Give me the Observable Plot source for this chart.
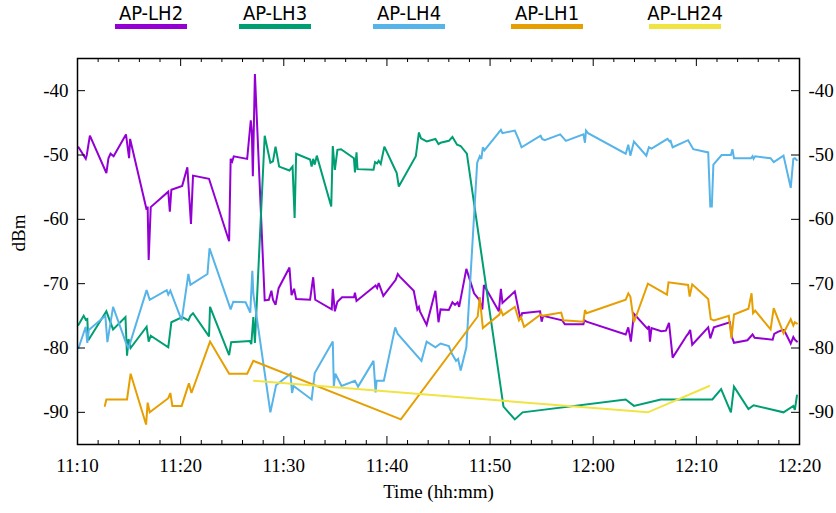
<!DOCTYPE html>
<html>
<head>
<meta charset="utf-8">
<script src="https://cdn.jsdelivr.net/npm/d3@7"></script>
<script src="https://cdn.jsdelivr.net/npm/@observablehq/plot@0.6"></script>
<style>
  html, body { margin: 0; padding: 0; background: #fff; }
  #wrap { position: relative; width: 836px; height: 513px; }
  #wrap svg text { font-family: "Liberation Serif", "Times New Roman", serif; }
  #legend { position: absolute; left: 0; top: 0; width: 836px; height: 40px; }
  .item { position: absolute; top: 0; width: 72px; }
  .item .lab { display: block; text-align: center; font-family: "DejaVu Sans Condensed", "DejaVu Sans", sans-serif; font-stretch: condensed; font-size: 20px; line-height: 20px; margin-top: 3px; white-space: nowrap; margin-left: -20px; margin-right: -20px; color: #000; }
  .item .sw { position: absolute; top: 24px; left: 0; width: 72px; height: 5px; }
</style>
</head>
<body>
<div id="wrap"><div id="legend"></div></div>
<script>
// ---- data (minutes after 11:10, dBm) ----
const seriesNames = ["AP-LH2", "AP-LH3", "AP-LH4", "AP-LH1", "AP-LH24"];
const seriesColors = ["#9400D3", "#009E73", "#56B4E9", "#E69F00", "#F0E442"];

const lh2 = [[0.1,-48.8],[0.8,-50.6],[0.9,-50],[1.2,-47],[2.8,-52.8],[3.0,-50.5],[3.2,-49.8],[3.5,-50.2],[4.7,-46.8],[5.0,-50.5],[5.1,-47.5],[6.7,-58.5],[6.8,-58],[6.9,-66.3],[7.1,-58.1],[8.8,-55.7],[8.95,-58.8],[9.1,-55.4],[10.15,-54.8],[10.65,-51.9],[11.0,-60.7],[11.2,-53.2],[12.75,-53.7],[14.7,-63.4],[14.85,-50.6],[15.0,-51],[15.15,-50.2],[16.45,-50.6],[16.8,-44.6],[16.9,-46.3],[17.0,-53.3],[17.2,-37.4],[18.15,-72.6],[18.55,-72.5],[18.8,-71.1],[18.95,-72.5],[19.2,-73.3],[19.5,-70.7],[20.55,-67.5],[20.75,-71.8],[21.0,-70.8],[21.2,-72.4],[22.55,-72.5],[22.85,-69],[23.05,-72.5],[24.65,-74],[24.75,-70.8],[24.95,-74.3],[25.2,-72.8],[25.65,-72.1],[26.8,-72.1],[26.9,-71.4],[27.05,-72.7],[28.9,-70.3],[29.05,-70.7],[29.2,-69.9],[29.65,-71.9],[30.85,-69.4],[31.05,-68.5],[31.25,-68.9],[32.6,-71.1],[32.95,-74],[33.1,-73.6],[33.2,-74.3],[33.85,-76.4],[34.7,-71.1],[35.0,-76],[35.2,-74],[36.0,-74.1],[36.35,-72.9],[36.6,-73.3],[36.85,-72.9],[37.0,-73.6],[37.7,-67.7],[38.45,-71.5],[38.95,-72.5],[39.25,-74],[39.4,-70.2],[40.85,-74.3],[41.05,-70.8],[41.2,-73],[42.4,-71.2],[42.95,-75.6],[43.1,-74.6],[44.85,-74.3],[45.0,-75.9],[45.15,-75],[47.0,-75.7],[47.25,-76.3],[49.05,-76.3],[49.15,-75.7],[49.35,-75.9],[53.15,-77.9],[53.4,-76.8],[53.65,-79],[53.95,-74.7],[55.25,-77],[55.4,-76.6],[55.5,-79],[55.65,-76.9],[56.6,-77.4],[57.05,-77.3],[57.35,-76.1],[57.7,-81.5],[59.05,-78.1],[59.2,-77.8],[59.4,-77.2],[59.6,-79.5],[61.15,-76.8],[61.35,-78.5],[61.7,-76.8],[63.25,-76],[63.45,-78.3],[63.65,-79.2],[64.95,-78.8],[65.45,-77.9],[65.65,-78.4],[67.4,-78.7],[67.55,-77.8],[67.9,-77.5],[68.35,-77.2],[68.5,-77.2],[69.15,-79.3],[69.4,-78.3],[69.55,-78.7],[69.75,-79]];

const lh3 = [[0.1,-76.4],[0.6,-75],[0.8,-75.6],[0.95,-75.5],[1.05,-78.8],[2.8,-74.3],[3.45,-77.1],[4.65,-75.2],[4.8,-81.2],[4.95,-78.6],[5.15,-80],[6.7,-76.7],[6.9,-79],[7.1,-78.1],[8.8,-79.9],[9.1,-76],[10.15,-75.2],[10.75,-75.7],[10.95,-75],[11.2,-74.6],[12.75,-78.2],[12.85,-73.6],[14.7,-81.1],[14.9,-79.1],[16.7,-78.9],[16.85,-79.4],[17.05,-75.2],[17.2,-79.2],[18.15,-47],[18.7,-51.2],[18.95,-51],[19.2,-48.7],[19.55,-51.8],[20.55,-52.4],[20.85,-51.8],[21.05,-59.8],[21.2,-49.8],[22.55,-50.7],[22.7,-51.8],[22.85,-50.6],[23.0,-51.5],[23.2,-50.1],[24.6,-58],[24.75,-48.6],[24.95,-52.3],[25.2,-49.2],[25.55,-49.1],[26.8,-50.5],[26.9,-52.7],[27.05,-49.6],[27.15,-52.2],[28.7,-52.3],[28.85,-51.1],[29.05,-51.3],[29.2,-50.9],[29.4,-51.4],[29.75,-48.7],[30.8,-52.3],[30.95,-52.8],[31.15,-54.9],[32.8,-50.2],[33.1,-46.5],[33.3,-47.4],[33.85,-47.9],[34.7,-47.5],[35.0,-48.3],[35.2,-48.1],[36.0,-47.8],[36.35,-47.2],[36.8,-48.4],[37.15,-48.6],[37.75,-49.8],[41.3,-89.1],[42.4,-91.1],[43.15,-90],[53.15,-88],[53.95,-89],[56.55,-88],[61.55,-88],[62.4,-86.4],[63.35,-90],[63.65,-86],[65.05,-89.5],[65.55,-88.9],[68.45,-90],[69.4,-89],[69.55,-89.6],[69.75,-87.4]];

const lh4 = [[0.1,-80],[0.8,-76.7],[0.95,-79.2],[1.1,-77.2],[2.7,-75],[2.9,-79.1],[3.45,-73.6],[4.7,-79.2],[4.95,-80],[6.7,-71],[7.0,-72.5],[8.65,-71],[8.8,-71.7],[9.0,-71.1],[10.1,-75.7],[10.75,-68.5],[10.95,-70.2],[12.6,-68.5],[12.8,-64.5],[14.85,-74],[15.1,-72.8],[16.3,-72.9],[16.75,-74.5],[16.95,-68],[17.05,-71.6],[18.7,-90],[19.25,-85.8],[20.65,-84],[20.8,-87],[20.95,-85.9],[22.7,-88],[23.0,-83.9],[24.75,-79],[24.85,-85.9],[25.0,-84],[25.6,-85.9],[26.9,-85.1],[27.2,-86],[28.7,-82],[28.9,-86.9],[29.0,-85.1],[29.7,-85.1],[30.8,-76.8],[31.05,-77.8],[33.35,-82],[33.85,-79],[34.7,-79.9],[35.2,-79.3],[36.0,-79.7],[36.3,-80.9],[36.7,-82],[36.9,-81.7],[37.15,-83.5],[37.7,-79.9],[38.75,-51.2],[39.0,-50.2],[39.15,-50.6],[39.3,-48.8],[39.45,-49.3],[41.05,-46.1],[41.2,-46.6],[42.4,-46.2],[42.75,-47.5],[43.05,-48.8],[44.9,-47],[45.05,-47.5],[45.3,-47.7],[46.8,-46.8],[47.35,-47.8],[49.05,-46.8],[49.2,-48.1],[49.3,-46.2],[49.5,-46.6],[53.15,-49.8],[53.4,-48.4],[53.6,-50.1],[53.95,-47.9],[55.15,-50.1],[55.4,-48.8],[55.65,-49],[57.2,-47.5],[57.4,-47.9],[57.5,-47.8],[57.7,-48.8],[59.2,-47.7],[59.7,-49.1],[61.15,-49.6],[61.35,-58],[61.5,-58],[61.65,-51.5],[62.45,-50],[63.35,-50],[63.5,-49.1],[63.65,-50.5],[65.3,-50.5],[65.45,-50.2],[65.55,-50.6],[65.7,-50.2],[67.2,-50.5],[67.5,-51.1],[68.45,-50.1],[69.15,-55.1],[69.4,-50.6],[69.55,-50.5],[69.75,-50.8]];

const lh1 = [[2.65,-89],[2.8,-88],[4.8,-88],[5.15,-84],[6.65,-91.9],[6.8,-88.5],[7.0,-90],[8.8,-87.8],[9.0,-87],[9.2,-89],[10.1,-89],[10.8,-85.5],[11.05,-87],[12.85,-79],[14.7,-84],[16.45,-84],[17.05,-82],[31.35,-91.1],[38.8,-75.1],[39.0,-72.1],[39.3,-76.9],[40.9,-74.8],[41.05,-74.1],[41.25,-74.9],[42.4,-73.6],[42.8,-75.7],[43.0,-75.2],[43.3,-76.7],[44.9,-74.8],[45.05,-75],[46.9,-74.5],[47.1,-75.7],[49.05,-75.9],[49.2,-74.1],[49.35,-74.6],[53.15,-72.5],[53.4,-71.5],[53.6,-72],[53.95,-76],[55.3,-70],[57.15,-71.7],[57.3,-69.8],[59.2,-70.2],[59.35,-72],[59.6,-70.1],[61.15,-72.4],[61.4,-75.5],[61.7,-75.7],[63.15,-75],[63.4,-78.5],[63.65,-74.8],[65.05,-73.9],[65.35,-71.5],[65.5,-74.6],[65.7,-74.2],[67.2,-77.1],[67.5,-73.8],[68.45,-77.7],[69.15,-75.5],[69.4,-76.5],[69.55,-76],[69.75,-76.2]];

const lh24 = [[17.1,-85.1],[55.3,-90],[61.25,-85.9]];

const seriesData = [lh2, lh3, lh4, lh1, lh24];
const startTime = "11:10";
const endTime = "12:20";
const yTicks = [-90, -80, -70, -60, -50, -40];
const yDomain = [-95, -35];
const xLabel = "Time (hh:mm)";
const yLabel = "dBm";

// ---- layout ----
const W = 836, H = 513;
const mL = 77, mR = 37, mT = 58, mB = 69;
const frameW = W - mL - mR, frameH = H - mT - mB;
const legendLeft = [115, 239, 373, 511, 649];

const toDate = (hm, addMin = 0) => {
  const [h, m] = hm.split(":").map(Number);
  return new Date(Date.UTC(2020, 0, 1, h, m) + addMin * 60000);
};
const t0 = toDate(startTime), t1 = toDate(endTime);
const majorTicks = d3.utcMinute.every(10).range(t0, new Date(+t1 + 1));
const minorTicks = d3.utcMinute.every(2).range(t0, new Date(+t1 + 1)).filter(d => d.getUTCMinutes() % 10 !== 0);

const rows = seriesData.flatMap((s, i) => s.map(([m, v]) => ({t: toDate(startTime, m), v, s: seriesNames[i]})));

const lineMarks = seriesNames.map((name, i) =>
  Plot.line(rows.filter(r => r.s === name), {x: "t", y: "v", stroke: seriesColors[i], strokeWidth: 2, strokeLinejoin: "miter", strokeMiterlimit: 3})
);

const chart = Plot.plot({
  width: W, height: H,
  marginLeft: mL, marginRight: mR, marginTop: mT, marginBottom: mB,
  style: "font-family: 'Liberation Serif', 'Times New Roman', serif; font-size: 19px; color: #000; background: #fff;",
  x: {type: "utc", domain: [t0, t1]},
  y: {domain: yDomain},
  marks: [
    ...lineMarks,
    // inward ticks
    Plot.tickX(majorTicks, {x: d => d, insetTop: frameH - 8, stroke: "#000", strokeWidth: 1}),
    Plot.tickX(majorTicks, {x: d => d, insetBottom: frameH - 8, stroke: "#000", strokeWidth: 1}),
    Plot.tickX(minorTicks, {x: d => d, insetTop: frameH - 4, stroke: "#000", strokeWidth: 1}),
    Plot.tickX(minorTicks, {x: d => d, insetBottom: frameH - 4, stroke: "#000", strokeWidth: 1}),
    Plot.tickY(yTicks, {y: d => d, insetRight: frameW - 8, stroke: "#000", strokeWidth: 1}),
    Plot.tickY(yTicks, {y: d => d, insetLeft: frameW - 8, stroke: "#000", strokeWidth: 1}),
    Plot.frame({stroke: "#000", strokeWidth: 1.5}),
    Plot.axisX(majorTicks, {tickSize: 0, tickPadding: 14, tickFormat: d3.utcFormat("%H:%M"), label: null, fontSize: 19}),
    Plot.axisY(yTicks, {anchor: "left", tickSize: 0, tickPadding: 9, tickFormat: d => String(d), label: null, fontSize: 19}),
    Plot.axisY(yTicks, {anchor: "right", tickSize: 0, tickPadding: 9, tickFormat: d => String(d), label: null, fontSize: 19}),
    Plot.text([yLabel], {frameAnchor: "left", dx: -59, rotate: -90, fontSize: 19}),
    Plot.text([xLabel], {frameAnchor: "bottom", dy: 53, fontSize: 19})
  ]
});
document.getElementById("wrap").appendChild(chart);

const legend = document.getElementById("legend");
seriesNames.forEach((name, i) => {
  const item = document.createElement("div");
  item.className = "item";
  item.style.left = legendLeft[i] + "px";
  const lab = document.createElement("span");
  lab.className = "lab";
  lab.textContent = name;
  const sw = document.createElement("div");
  sw.className = "sw";
  sw.style.background = seriesColors[i];
  item.appendChild(lab);
  item.appendChild(sw);
  legend.appendChild(item);
});
</script>
</body>
</html>
